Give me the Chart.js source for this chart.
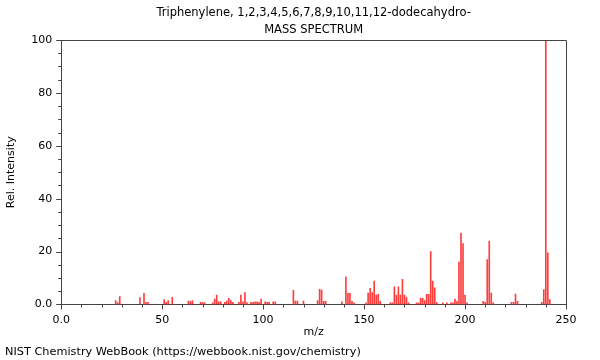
<!DOCTYPE html>
<html>
<head>
<meta charset="utf-8">
<script src="https://cdn.jsdelivr.net/npm/chart.js@4"></script>
<style>
  html, body { margin: 0; padding: 0; background: #fff; }
  #wrap { width: 600px; height: 360px; }
</style>
</head>
<body>
<div id="wrap"><canvas id="ms-chart" width="600" height="360"></canvas></div>
<script>
const titleLines = ['Triphenylene, 1,2,3,4,5,6,7,8,9,10,11,12-dodecahydro-', 'MASS SPECTRUM'];
const footerText = 'NIST Chemistry WebBook (https://webbook.nist.gov/chemistry)';

// m/z of each peak and its relative intensity
const mzValues = [27, 28, 29, 39, 41, 42, 43, 51, 52, 53, 55, 63, 64, 65, 69, 70, 71, 75, 76, 77,
  78, 79, 81, 82, 83, 84, 85, 88, 89, 90, 91, 92, 94, 95, 96, 97, 98, 99, 101, 102,
  103, 105, 106, 115, 116, 117, 120, 127, 128, 129, 130, 131, 139, 141, 142, 143, 144, 145, 151, 152,
  153, 154, 155, 156, 157, 158, 163, 164, 165, 166, 167, 168, 169, 170, 171, 172, 176, 177, 178, 179,
  180, 181, 182, 183, 184, 185, 186, 189, 191, 193, 194, 195, 196, 197, 198, 199, 200, 201, 209, 210,
  211, 212, 213, 214, 223, 224, 225, 226, 238, 239, 240, 241, 242];
const intensities = [1.5, 0.7, 3.0, 2.6, 4.2, 0.8, 0.8, 1.8, 0.8, 1.5, 2.7, 1.3, 1.2, 1.5, 0.8, 0.7, 0.7, 0.6, 2.0, 3.5,
  1.0, 1.0, 0.8, 1.3, 2.3, 1.5, 0.8, 0.8, 3.5, 1.0, 4.5, 0.7, 0.8, 0.8, 1.0, 1.0, 0.8, 2.0, 1.0, 0.8,
  0.8, 1.0, 1.0, 5.3, 1.3, 1.3, 1.3, 1.5, 5.7, 5.4, 1.2, 1.2, 1.0, 10.4, 4.2, 4.2, 1.2, 0.6, 0.6, 4.3,
  6.1, 4.5, 8.8, 3.5, 3.8, 1.2, 0.6, 0.6, 6.7, 3.5, 6.7, 3.5, 9.5, 3.5, 2.8, 0.6, 0.6, 0.6, 2.4, 2.4,
  1.5, 3.8, 3.8, 20, 8.8, 6.3, 0.8, 0.6, 0.6, 0.6, 0.6, 2.0, 1.2, 16, 27, 23, 3.5, 0.6, 1.2, 0.8,
  17, 24, 4.3, 0.6, 0.8, 0.8, 3.9, 1.2, 0.8, 5.6, 100, 19.5, 1.8];

const xMajorTicks = [0, 50, 100, 150, 200, 250];
const yMajorTicks = [0, 20, 40, 60, 80, 100];

const axisColor = '#444';
const font = { family: 'DejaVu Sans', size: 11, lineHeight: 1.0 };

// title centred over the plot, tick marks outside the plot and the box round it
const frame = {
  id: 'frame',
  afterDraw(chart) {
    const c = chart.ctx;
    const a = chart.chartArea;
    const xs = chart.scales.x;
    const ys = chart.scales.y;
    c.save();
    c.fillStyle = '#000';
    c.font = '11.5px "DejaVu Sans"';
    c.textAlign = 'center';
    c.textBaseline = 'middle';
    const cx = (a.left + a.right) / 2;
    c.fillText(titleLines[0], cx, 13);
    c.fillText(titleLines[1], cx, 30);

    c.strokeStyle = axisColor;
    c.lineWidth = 1;
    c.beginPath();
    xs.ticks.forEach(t => {
      const px = Math.round(xs.getPixelForValue(t.value)) + 0.5;
      const len = xMajorTicks.includes(t.value) ? 5 : 3;
      c.moveTo(px, a.bottom);
      c.lineTo(px, a.bottom + len);
    });
    ys.ticks.forEach(t => {
      const py = Math.round(ys.getPixelForValue(t.value)) + 0.5;
      const len = yMajorTicks.includes(t.value) ? 5 : 3;
      c.moveTo(a.left, py);
      c.lineTo(a.left - len, py);
    });
    c.stroke();
    c.beginPath();
    c.moveTo(Math.round(a.left) + 0.5, Math.round(a.top) + 0.5);
    c.lineTo(Math.round(a.right) + 0.5, Math.round(a.top) + 0.5);
    c.lineTo(Math.round(a.right) + 0.5, Math.round(a.bottom) + 0.5);
    c.stroke();
    c.restore();
  }
};

const ctx = document.getElementById('ms-chart').getContext('2d');

new Chart(ctx, {
  type: 'bar',
  data: {
    datasets: [{
      data: mzValues.map((m, i) => ({ x: m, y: intensities[i] })),
      backgroundColor: 'rgba(255, 40, 40, 0.9)',
      borderWidth: 0,
      barThickness: 1,
      grouped: false
    }]
  },
  options: {
    responsive: false,
    animation: false,
    layout: { padding: { left: 5, right: 34, top: 40, bottom: 0 } },
    plugins: {
      legend: { display: false },
      tooltip: { enabled: false },
      subtitle: {
        display: true,
        position: 'bottom',
        align: 'start',
        text: footerText,
        color: '#000',
        font: { family: 'DejaVu Sans', size: 11.3, weight: 'normal', lineHeight: 1.2 },
        padding: { top: 7.5, bottom: 1 }
      }
    },
    scales: {
      x: {
        type: 'linear',
        min: 0,
        max: 250,
        offset: false,
        grid: { display: false, drawTicks: false },
        border: { display: true, color: axisColor },
        ticks: {
          stepSize: 10,
          autoSkip: false,
          maxRotation: 0,
          padding: 10.5,
          color: '#000',
          font: font,
          callback: v => xMajorTicks.includes(v) ? (v === 0 ? '0.0' : String(v)) : ''
        },
        title: {
          display: true,
          text: 'm/z',
          color: '#000',
          font: font,
          padding: { top: -9.5, bottom: 0 }
        }
      },
      y: {
        min: 0,
        max: 100,
        grid: { display: false, drawTicks: false },
        border: { display: true, color: axisColor },
        ticks: {
          stepSize: 5,
          autoSkip: false,
          padding: 9,
          color: '#000',
          font: font,
          callback: v => yMajorTicks.includes(v) ? (v === 0 ? '0.0' : String(v)) : ''
        },
        title: {
          display: true,
          text: 'Rel. Intensity',
          color: '#000',
          font: { family: 'DejaVu Sans', size: 11, lineHeight: 1.2 },
          padding: { top: 0, bottom: 4 }
        }
      }
    }
  },
  plugins: [frame]
});
</script>
</body>
</html>
